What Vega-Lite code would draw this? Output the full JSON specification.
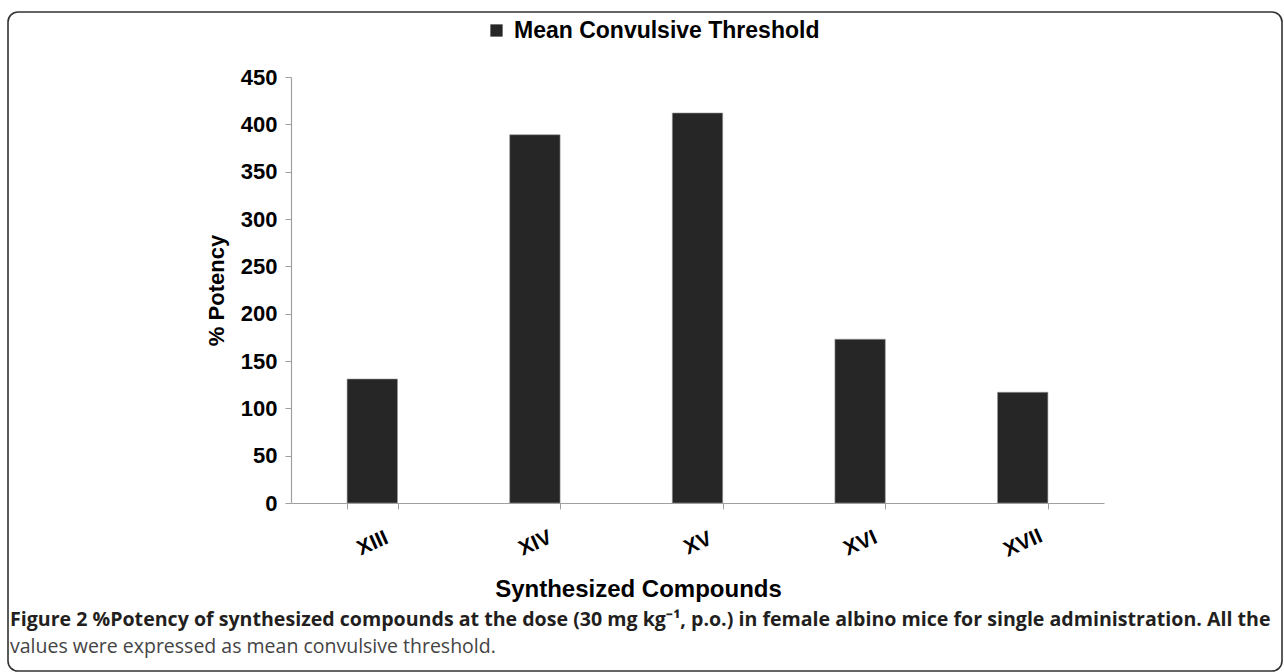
{
  "$schema": "https://vega.github.io/schema/vega-lite/v6.json",
  "autosize": {"type": "none"},
  "padding": {"left": 8, "top": 12, "right": 2, "bottom": 1},
  "width": 1274,
  "height": 659,
  "background": "white",
  "data": {
    "values": [
      {"compound": "XIII", "potency": 131, "series": "Mean Convulsive Threshold"},
      {"compound": "XIV", "potency": 389, "series": "Mean Convulsive Threshold"},
      {"compound": "XV", "potency": 412, "series": "Mean Convulsive Threshold"},
      {"compound": "XVI", "potency": 173, "series": "Mean Convulsive Threshold"},
      {"compound": "XVII", "potency": 117, "series": "Mean Convulsive Threshold"}
    ]
  },
  "title": {
    "text": "Figure 2 %Potency of synthesized compounds at the dose (30 mg kg⁻¹, p.o.) in female albino mice for single administration. All the",
    "subtitle": "values were expressed as mean convulsive threshold.",
    "orient": "bottom",
    "anchor": "start",
    "frame": "group",
    "offset": -60,
    "dx": 2,
    "font": "Open Sans",
    "fontSize": 19.6,
    "fontWeight": "bold",
    "color": "#231f20",
    "subtitleFont": "Open Sans",
    "subtitleFontSize": 19.5,
    "subtitleColor": "#444444",
    "subtitlePadding": 7
  },
  "mark": {"type": "bar", "stroke": "#9a9a9a", "strokeWidth": 0.6},
  "encoding": {
    "x": {
      "field": "compound",
      "type": "nominal",
      "sort": null,
      "scale": {"range": [283, 1096], "paddingInner": 0.69, "paddingOuter": 0.345},
      "axis": {
        "offset": -168,
        "title": "Synthesized Compounds",
        "titleX": 630,
        "titleY": 74,
        "titleBaseline": "top",
        "titleFont": "Liberation Sans",
        "titleFontSize": 24,
        "titleFontWeight": "bold",
        "titleColor": "#000000",
        "labelAngle": -24,
        "labelAlign": "center",
        "labelBaseline": "middle",
        "labelPadding": 34,
        "labelFont": "Liberation Sans",
        "labelFontSize": 21,
        "labelFontWeight": "bold",
        "labelColor": "#000000",
        "tickBand": "extent",
        "tickSize": 6,
        "tickColor": "#a0a0a0",
        "domainColor": "#a0a0a0",
        "domainWidth": 1.2,
        "grid": false
      }
    },
    "y": {
      "field": "potency",
      "type": "quantitative",
      "scale": {"domain": [0, 450], "range": [491, 65], "nice": false},
      "axis": {
        "offset": -283,
        "values": [0, 50, 100, 150, 200, 250, 300, 350, 400, 450],
        "title": "% Potency",
        "titleFont": "Liberation Sans",
        "titleFontSize": 22,
        "titleFontWeight": "bold",
        "titleColor": "#000000",
        "titlePadding": 12,
        "labelFont": "Liberation Sans",
        "labelFontSize": 22,
        "labelFontWeight": "bold",
        "labelColor": "#000000",
        "labelPadding": 8,
        "tickSize": 6,
        "tickColor": "#a0a0a0",
        "domainColor": "#a0a0a0",
        "domainWidth": 1.2,
        "grid": false
      }
    },
    "color": {
      "field": "series",
      "type": "nominal",
      "scale": {"range": ["#262626"]},
      "legend": {
        "orient": "none",
        "legendX": 477,
        "legendY": 7,
        "title": null,
        "padding": 0,
        "symbolType": "square",
        "symbolSize": 150,
        "symbolStrokeWidth": 0,
        "labelFont": "Liberation Sans",
        "labelFontSize": 23,
        "labelFontWeight": "bold",
        "labelColor": "#000000",
        "labelOffset": 6,
        "labelLimit": 0
      }
    }
  },
  "config": {
    "view": {"stroke": "#333333", "strokeWidth": 1.6, "cornerRadius": 10, "fill": "white"}
  }
}
